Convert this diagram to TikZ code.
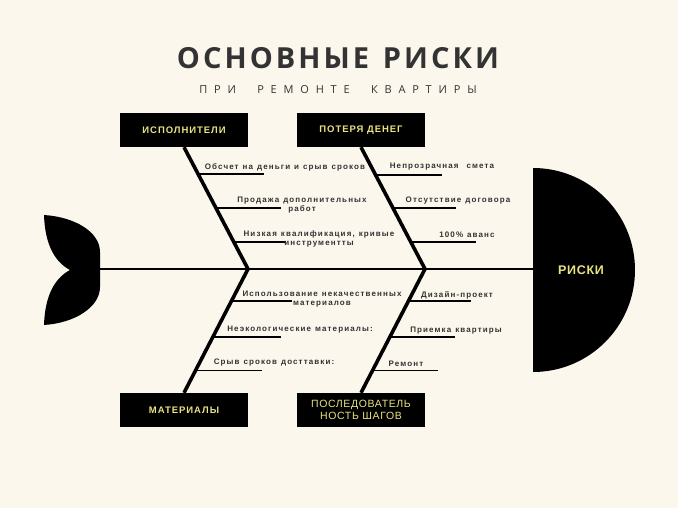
\documentclass[tikz,border=0pt]{standalone}
\usepackage{fontspec}
\setmainfont{Liberation Sans}
\newfontfamily\titlefont[LetterSpace=10.5,WordSpace=1.3]{Open Sans}
\newfontfamily\subfont[LetterSpace=62,WordSpace=2.2]{Open Sans}
\newfontfamily\causefont[LetterSpace=14,WordSpace=1.2]{Liberation Sans}
\usetikzlibrary{calc}
\definecolor{paper}{RGB}{251,247,237}
\definecolor{ink}{RGB}{51,51,51}
\definecolor{gold}{RGB}{232,228,128}

\begin{document}
\begin{tikzpicture}[x=1pt,y=-1pt,
    box/.style={fill=black,text=gold,minimum width=128pt,minimum height=34pt,inner sep=0pt,align=center,
      font=\fontsize{9.5}{11}\selectfont\bfseries\addfontfeature{LetterSpace=10}},
    cause/.style={text=ink,align=center,inner sep=0pt,
      font=\causefont\fontsize{8}{8.6}\selectfont\bfseries},
    bone/.style={line width=3.6pt},
    twig/.style={line width=1.5pt}]
  \useasboundingbox (0,0) rectangle (678,508);
  \fill[paper] (0,0) rectangle (678,508);

  \node[text=ink,font=\titlefont\fontsize{29}{31}\selectfont\bfseries] (title) at (338,58) {ОСНОВНЫЕ РИСКИ};
  \node[text=ink,font=\subfont\fontsize{11}{13}\selectfont] (sub) at (338,90) {ПРИ РЕМОНТЕ КВАРТИРЫ};

  \node[box] (exec) at (184,130) {ИСПОЛНИТЕЛИ};
  \node[box] (loss) at (361,130) {ПОТЕРЯ ДЕНЕГ};
  \node[box] (mat)  at (184,410) {МАТЕРИАЛЫ};
  \node[box,font=\fontsize{10.5}{12}\selectfont\addfontfeature{LetterSpace=6}] (seq) at (361,410) {ПОСЛЕДОВАТЕЛЬ\\НОСТЬ ШАГОВ};

  \fill (44,215) .. controls (75,217) and (100,232) .. (100,252) -- (100,287)
    .. controls (100,307) and (75,323) .. (44,325)
    .. controls (45,295) and (55,278) .. (70,270)
    .. controls (55,262) and (45,245) .. (44,215);
  \fill (533,168) arc[start angle=-90,end angle=90,radius=102] -- cycle;
  \node[text=gold,font=\fontsize{12.5}{14}\selectfont\bfseries\addfontfeature{LetterSpace=6}] (risk) at (581,270) {РИСКИ};

  \coordinate (tail) at (100,269);
  \coordinate (head) at (533,269);
  \coordinate (j1) at (248,269);
  \coordinate (j2) at (425,269);
  \draw[line width=2.6pt] (tail) -- (head);
  \draw[bone] (exec.south) -- (j1) -- (mat.north);
  \draw[bone] (loss.south) -- (j2) -- (seq.north);

  \foreach \t/\l [count=\i] in {.22/66,.50/65,.78/52}
    \draw[twig] ($(exec.south)!\t!(j1)$) coordinate (ex\i) -- ++(\l,0);
  \foreach \t/\l [count=\i] in {.23/66,.50/63,.78/65}
    \draw[twig] ($(loss.south)!\t!(j2)$) coordinate (lo\i) -- ++(\l,0);
  \foreach \t/\l [count=\i] in {.26/61,.55/68,.82/66}
    \draw[twig] ($(j1)!\t!(mat.north)$) coordinate (ma\i) -- ++(\l,0);
  \foreach \t/\l [count=\i] in {.26/63,.55/65,.82/65}
    \draw[twig] ($(j2)!\t!(seq.north)$) coordinate (sq\i) -- ++(\l,0);

  \node[cause] (exl1) at (285,167) {Обсчет на деньги и срыв сроков};
  \node[cause] (exl2) at (302,205) {Продажа дополнительных\\работ};
  \node[cause] (exl3) at (319,239) {Низкая квалификация, кривые\\инструментты};
  \node[cause] (lol1) at (442,167) {Непрозрачная\ \ смета};
  \node[cause] (lol2) at (458,201) {Отсутствие договора};
  \node[cause] (lol3) at (467,235) {100\% аванс};
  \node[cause] (mal1) at (322,299) {Использование некачественных\\материалов};
  \node[cause] (mal2) at (300,330) {Неэкологические материалы:};
  \node[cause] (mal3) at (274,363) {Срыв сроков досттавки:};
  \node[cause] (sql1) at (457,295) {Дизайн-проект};
  \node[cause] (sql2) at (456,331) {Приемка квартиры};
  \node[cause] (sql3) at (406,364) {Ремонт};
\end{tikzpicture}
\end{document}
